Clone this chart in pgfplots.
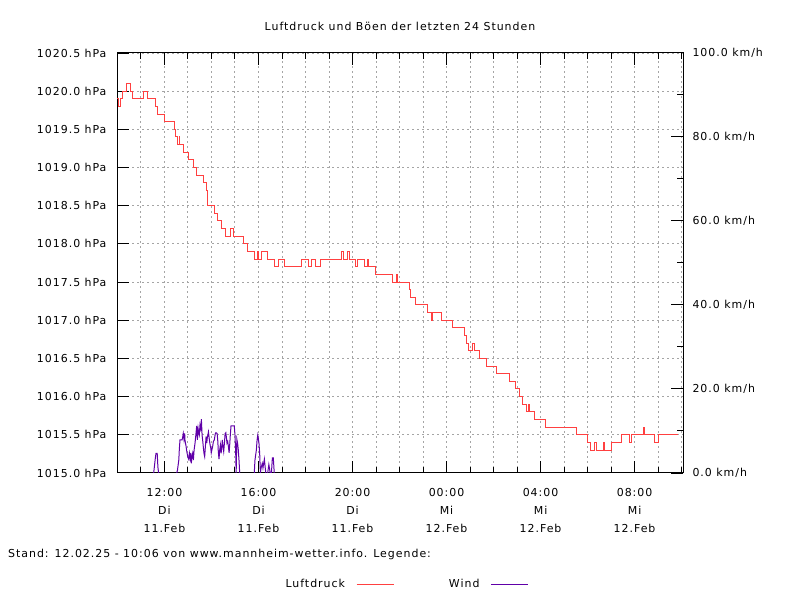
\documentclass[border=0pt]{standalone}
\usepackage{pgfplots}
\pgfplotsset{compat=1.18}
\usepackage{fontspec}
\setmainfont{DejaVu Sans}[LetterSpace=9]

\definecolor{druck}{RGB}{255,64,64}
\definecolor{wind}{RGB}{96,0,168}
\definecolor{gitter}{RGB}{165,165,165}

% Luftdruck (hPa), Zeit in Stunden ab 11.02. 00:00
\pgfplotstableread{
t p
9.98 1019.9
10.04 1019.8
10.11 1019.9
10.22 1020.0
10.39 1020.1
10.56 1020.0
10.65 1019.9
11.10 1020.0
11.27 1019.9
11.63 1019.8
11.72 1019.7
12.02 1019.6
12.44 1019.5
12.49 1019.4
12.55 1019.3
12.62 1019.4
12.66 1019.3
12.83 1019.2
13.03 1019.1
13.23 1019.0
13.37 1018.9
13.68 1018.8
13.77 1018.7
13.81 1018.6
13.85 1018.5
14.12 1018.4
14.25 1018.3
14.44 1018.2
14.58 1018.1
14.82 1018.2
14.92 1018.1
15.38 1018.0
15.55 1017.9
15.81 1017.8
15.95 1017.9
16.02 1017.8
16.14 1017.9
16.38 1017.8
16.66 1017.7
16.87 1017.8
17.09 1017.7
17.84 1017.8
18.11 1017.7
18.24 1017.8
18.41 1017.7
18.65 1017.8
19.51 1017.9
19.60 1017.8
19.79 1017.9
19.87 1017.8
20.13 1017.7
20.21 1017.8
20.49 1017.7
20.65 1017.8
20.70 1017.7
20.96 1017.6
21.72 1017.5
21.85 1017.6
21.92 1017.5
22.42 1017.4
22.48 1017.3
22.70 1017.2
23.20 1017.1
23.34 1017.0
23.41 1017.1
23.77 1017.0
24.25 1016.9
24.77 1016.8
24.83 1016.7
24.92 1016.6
25.11 1016.7
25.19 1016.6
25.40 1016.5
25.71 1016.4
26.14 1016.3
26.67 1016.2
26.92 1016.1
27.10 1016.0
27.24 1015.9
27.41 1015.8
27.47 1015.9
27.53 1015.8
27.74 1015.7
28.23 1015.6
29.54 1015.5
29.99 1015.4
30.11 1015.3
30.30 1015.4
30.36 1015.3
30.68 1015.4
30.74 1015.3
31.03 1015.4
31.46 1015.5
31.79 1015.4
31.85 1015.5
32.36 1015.6
32.42 1015.5
32.85 1015.4
33.02 1015.5
33.86 1015.5
}\druckdaten

% Böen (km/h); nan trennt die einzelnen Abschnitte
\pgfplotstableread{
t w
11.54 0
11.61 3.5
11.64 4.7
11.69 4.7
11.72 1.4
11.75 0
12.00 nan
12.52 0
12.55 0.6
12.61 3.1
12.63 5.5
12.66 7.9
12.75 7.9
12.78 8.7
12.80 9.4
12.83 8.0
12.86 9.4
12.87 7.9
12.92 6.3
12.95 5.1
12.99 3.9
13.03 3.3
13.06 4.7
13.09 3.5
13.12 4.8
13.14 2.3
13.17 3.9
13.20 4.7
13.23 3.1
13.26 5.5
13.30 7.1
13.34 9.4
13.37 11.2
13.40 7.9
13.43 10.6
13.46 9.4
13.48 9.0
13.51 11.4
13.54 10.6
13.57 12.8
13.60 9.0
13.63 7.5
13.65 6.3
13.68 4.7
13.71 3.9
13.74 6.3
13.77 8.7
13.80 7.1
13.82 8.3
13.87 9.8
13.91 7.9
13.94 6.7
13.97 5.9
13.99 4.8
14.02 5.6
14.05 6.3
14.08 7.5
14.12 7.9
14.16 9.3
14.19 9.6
14.24 9.4
14.27 7.5
14.29 5.1
14.32 3.3
14.35 5.5
14.38 6.7
14.41 4.7
14.44 6.3
14.46 7.9
14.49 6.3
14.52 5.1
14.55 7.1
14.58 9.4
14.61 9.6
14.63 8.7
14.66 7.1
14.69 7.5
14.72 6.3
14.75 4.8
14.78 7.1
14.80 9.0
14.83 11.2
14.97 11.2
15.00 9.0
15.03 4.7
15.05 0
15.07 6.3
15.08 8.0
15.11 7.1
15.14 5.5
15.17 3.1
15.20 0
15.50 nan
15.82 0
15.85 3.1
15.91 5.5
15.94 7.9
15.97 9.0
15.99 8.3
16.02 7.1
16.05 4.7
16.08 0
16.11 1.2
16.16 2.3
16.19 1.2
16.22 2.3
16.25 3.3
16.28 1.6
16.31 0
16.35 nan
16.39 0
16.44 2.0
16.47 1.0
16.50 0
16.52 nan
16.55 0
16.59 3.6
16.63 3.6
16.67 0
}\winddaten

\pgfplotsset{
  gemeinsam/.style={
    width=566bp, height=420bp, scale only axis,
    at={(117bp,127bp)}, anchor=south west,
    xmin=9.98, xmax=34.06,
    tick align=inside,
    major tick length=12bp, minor tick length=6bp,
    every tick/.style={black, line width=1bp},
    axis line style={line width=1bp, black},
    tick label style={font=\fontsize{11}{18}\selectfont},
    /pgf/number format/assume math mode=true,
  },
}

\begin{document}
\begin{tikzpicture}
\path[use as bounding box] (0,0) rectangle (800bp,600bp);

% linke Achse: Luftdruck
\begin{axis}[gemeinsam,
  ymin=1015, ymax=1020.5,
  ytick={1015,1015.5,...,1020.5},
  minor y tick num=1,
  ytick pos=left,
  yticklabel={\pgfmathprintnumber[fixed,fixed zerofill,precision=1,1000 sep={}]{\tick}~hPa},
  yticklabel style={xshift=-7bp},
  xtick={12,16,20,24,28,32},
  minor xtick={10,11,...,34},
  xticklabels={{12:00\\Di\\11.Feb},{16:00\\Di\\11.Feb},{20:00\\Di\\11.Feb},
                {00:00\\Mi\\12.Feb},{04:00\\Mi\\12.Feb},{08:00\\Mi\\12.Feb}},
  xticklabel style={align=center, yshift=-12bp},
  xmajorgrids, xminorgrids, ymajorgrids,
  major grid style={gitter, line width=1bp, dash pattern=on 2bp off 3bp},
  minor grid style={gitter, line width=1bp, dash pattern=on 2bp off 3bp},
]
\addplot[druck, line width=1bp, const plot] table[x=t, y=p] {\druckdaten};
\end{axis}

% rechte Achse: Wind
\begin{axis}[gemeinsam,
  ymin=0, ymax=100,
  ytick={0,20,...,100},
  minor y tick num=1,
  axis x line=none,
  axis y line*=right,
  ytick pos=right,
  yticklabel={\pgfmathprintnumber[fixed,fixed zerofill,precision=1]{\tick}~km/h},
  yticklabel style={xshift=6bp},
  unbounded coords=jump,
  legend columns=2,
  legend plot pos=right,
  legend style={draw=none, fill=none, font=\fontsize{11}{13}\selectfont,
    at={(axis description cs:0.5106,-0.2643)}, anchor=center,
    /tikz/every even column/.style={column sep=53bp}},
  legend image code/.code={\draw[#1] (0bp,0bp) -- (37bp,0bp);},
]
\addlegendimage{druck, line width=1bp}
\addlegendentry{Luftdruck\hspace*{9bp}}
\addplot[wind, line width=1bp] table[x=t, y=w] {\winddaten};
\addlegendentry{Wind\hspace*{9bp}}
\end{axis}

\node[font=\fontsize{11}{13}\selectfont] at (400bp,574bp) {Luftdruck und Böen der letzten 24 Stunden};
\node[font=\fontsize{11}{13}\selectfont, anchor=west, inner sep=0pt] at (8bp,46bp) {Stand: 12.02.25 - 10:06 von www.mannheim-wetter.info. Legende:};
\end{tikzpicture}
\end{document}
